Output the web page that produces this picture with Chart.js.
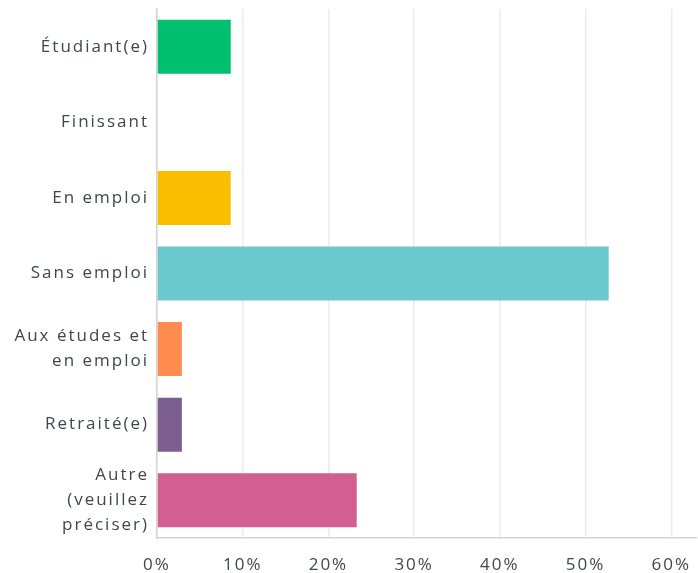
<!DOCTYPE html>
<html>
<head>
<meta charset="utf-8">
<script src="https://cdn.jsdelivr.net/npm/chart.js@4.4.1/dist/chart.umd.min.js"></script>
<style>
  html, body { margin: 0; padding: 0; background: #fff; }
  #wrap { width: 698px; height: 573px; }
</style>
</head>
<body>
<div id="wrap"><canvas id="statusChart"></canvas></div>
<script>
// Données
const categories = [
    'Étudiant(e)',
    'Finissant',
    'En emploi',
    'Sans emploi',
    ['Aux études et', 'en emploi'],
    'Retraité(e)',
    ['Autre', '(veuillez', 'préciser)']
];
const percentages = [8.6, 0, 8.6, 52.7, 2.9, 2.9, 23.3];
const barColors = ['#00bf6f', '#f9be00', '#f9be00', '#6bc8cd', '#ff8b4f', '#7d5e90', '#d25f90'];
const xTicks = [0, 10, 20, 30, 40, 50, 60];

// espacement des lettres, comme la police d'origine
const letterSpacing = {
    id: 'letterSpacing',
    beforeLayout: function(chart) { chart.ctx.letterSpacing = '2px'; },
    beforeDraw: function(chart) { chart.ctx.letterSpacing = '2px'; }
};

document.addEventListener('DOMContentLoaded', function() {
    const ctx = document.getElementById('statusChart').getContext('2d');
    const textColor = '#40474e';
    const font = { family: '"Open Sans", sans-serif', size: 17 };

    new Chart(ctx, {
        type: 'bar',
        data: {
            labels: categories,
            datasets: [{
                data: percentages,
                backgroundColor: barColors,
                barPercentage: 0.715,
                categoryPercentage: 1.0
            }]
        },
        plugins: [letterSpacing],
        options: {
            indexAxis: 'y',
            responsive: true,
            maintainAspectRatio: false,
            animation: false,
            layout: { padding: { top: 9, right: 1, left: 0, bottom: 0 } },
            plugins: {
                legend: { display: false },
                tooltip: { enabled: false }
            },
            scales: {
                x: {
                    min: 0,
                    max: 63,
                    afterBuildTicks: function(axis) {
                        axis.ticks = xTicks.map(v => ({ value: v }));
                    },
                    afterFit: function(scale) {
                        scale.height = 35;
                        scale.paddingLeft = 0;
                        scale.paddingRight = 0;
                    },
                    ticks: {
                        color: textColor,
                        font: font,
                        padding: 17,
                        callback: v => v + '%'
                    },
                    grid: { color: '#ececec', lineWidth: 1.5, drawTicks: false },
                    border: { color: '#d4d4d4', width: 1.5 }
                },
                y: {
                    afterFit: function(scale) {
                        scale.width = 157;
                        scale.paddingTop = 0;
                        scale.paddingBottom = 0;
                    },
                    ticks: {
                        color: textColor,
                        font: Object.assign({ lineHeight: 1.47 }, font),
                        padding: 8,
                        autoSkip: false
                    },
                    grid: { display: false, drawTicks: false },
                    border: { color: '#d4d4d4', width: 1.5 }
                }
            }
        }
    });
});
</script>
</body>
</html>
